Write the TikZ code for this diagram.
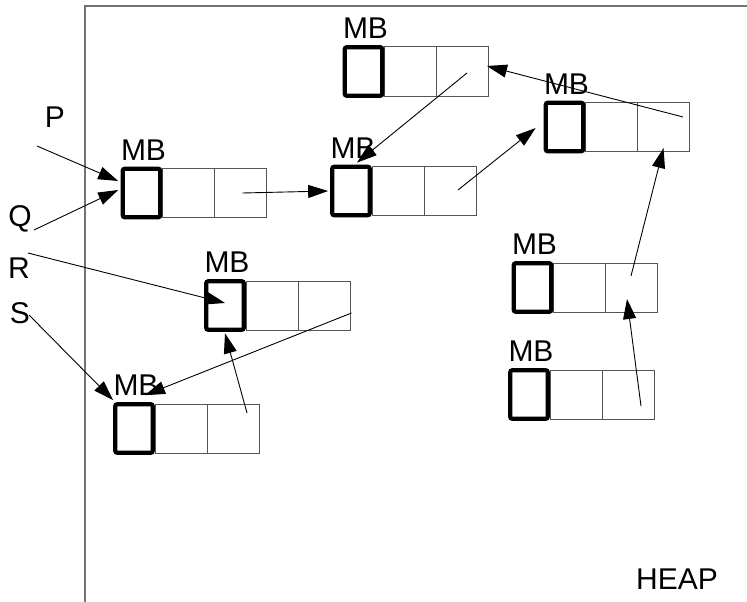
\documentclass[tikz,border=0pt]{standalone}
\usepackage{fontspec}
\setmainfont{Liberation Sans}
\usetikzlibrary{arrows.meta,calc}

\definecolor{framegray}{RGB}{115,115,115}
\definecolor{cellgray}{RGB}{85,85,85}

\tikzset{
  mbbox/.style={draw=black, line width=4.2pt, rounded corners=2pt, fill=white,
    minimum width=37.5pt, minimum height=48.5pt, inner sep=0pt},
  cellbox/.style={draw=cellgray, line width=1pt,
    minimum width=52pt, minimum height=49pt, inner sep=0pt, outer sep=0pt},
  lbl/.style={font=\fontsize{30pt}{36pt}\selectfont, inner sep=0pt, anchor=base},
  ptr/.style={draw=black, line width=0.9pt, -{Triangle[length=20pt,width=13pt]}},
  frame/.style={draw=framegray, line width=1.5pt},
}

% one memory block: a thick MB header box followed by two cells
\newcommand\memblock[3]{%
  \node[cellbox] (#1-c1) at (#2+47,#3) {};
  \node[cellbox] (#1-c2) at (#2+99,#3) {};
  \node[mbbox] (#1-mb) at (#2,#3) {};
  \node[lbl] (#1-lbl) at ($(#1-mb.north)+(2,-6.5)$) {MB};
}

\begin{document}
\begin{tikzpicture}[x=1pt, y=-1pt]
\useasboundingbox (0,0) rectangle (747,602);

% heap boundary
\draw[frame] (85,602) -- (85,6) -- (747,6);
\node[lbl] (heap) at (677,589) {HEAP};

% pointer variables
\node[lbl] (P) at (55,127) {P};
\node[lbl] (Q) at (20,226) {Q};
\node[lbl] (R) at (19,278) {R};
\node[lbl] (S) at (20,323) {S};
\coordinate (Pt) at (37,146);
\coordinate (Qt) at (34,230);
\coordinate (Rt) at (28,253);
\coordinate (St) at (29,315);

% memory blocks
\memblock{A}{141.5}{193}
\memblock{B}{363.5}{71.5}
\memblock{C}{351}{191}
\memblock{D}{564.5}{127}
\memblock{E}{532.5}{287.5}
\memblock{F}{529}{394.5}
\memblock{G}{225}{305.5}
\memblock{H}{134}{428.5}

% references
\draw[ptr] (Pt) -- ($(A-mb.west)+(-2.5,-12)$);
\draw[ptr] (Qt) -- ($(A-mb.west)+(-2.5,-3)$);
\draw[ptr] (Rt) -- ($(G-mb.center)+(0,-2.5)$);
\draw[ptr] (St) -- ($(H-mb.north west)+(0,-2)$);
\draw[ptr] ($(A-c2.center)+(2,0)$) -- ($(C-mb.west)+(-2,0)$);
\draw[ptr] ($(B-c2.center)+(4.5,1.5)$) -- ($(C-mb.north)+(6,-2)$);
\draw[ptr] ($(C-c2.center)+(8,-1)$) -- ($(D-mb.west)+(-8,1)$);
\draw[ptr] ($(D-c2.center)+(19.5,-10)$) -- ($(B-c2.east)+(-1.5,-5.5)$);
\draw[ptr] ($(E-c2.center)+(-0.5,-11.5)$) -- ($(D-c2.south)+(0,-3.5)$);
\draw[ptr] ($(F-c2.center)+(13,11.5)$) -- ($(E-c2.center)+(-4.5,11.5)$);
\draw[ptr] ($(G-c2.east)+(1.5,7.5)$) -- ($(H-mb.north)+(11,-7)$);
\draw[ptr] ($(H-c2.center)+(14,-15.5)$) -- ($(G-mb.south)+(0,1.5)$);
\end{tikzpicture}
\end{document}
